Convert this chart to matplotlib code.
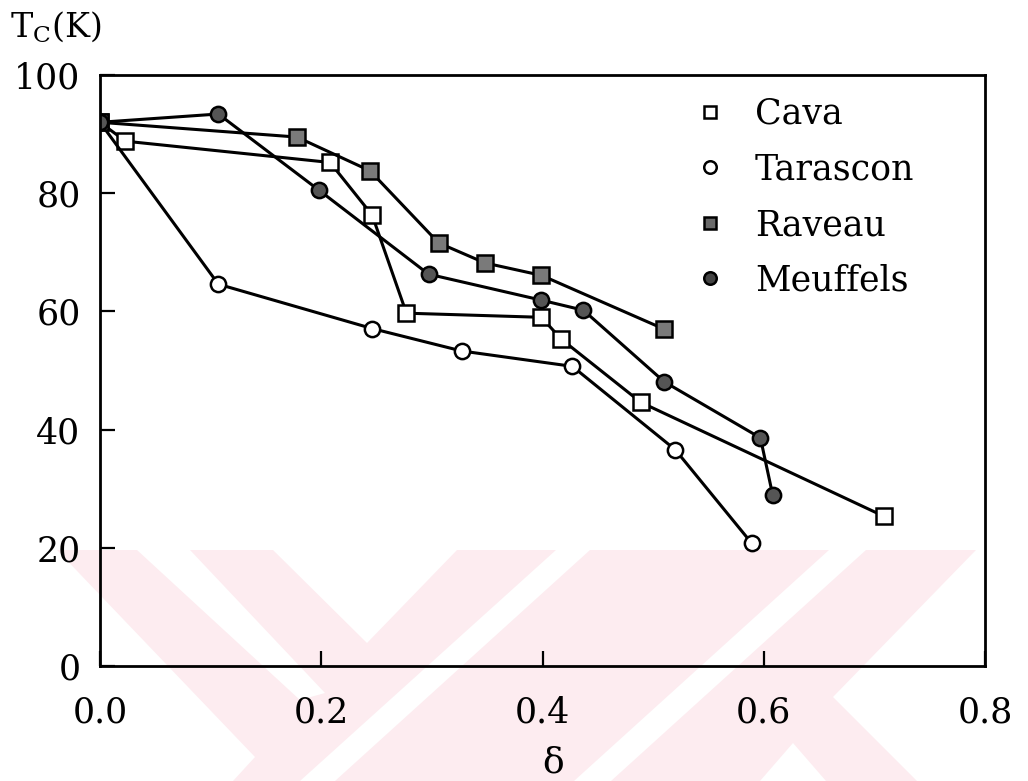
import matplotlib
matplotlib.use("Agg")
import matplotlib.pyplot as plt
from matplotlib.lines import Line2D
from matplotlib.patches import Polygon

plt.rcParams['font.family'] = ['DejaVu Serif']
plt.rcParams['mathtext.fontset'] = 'dejavuserif'

# --- données (delta, Tc en K) ---
cava_x = [0.0, 0.023, 0.208, 0.246, 0.277, 0.399, 0.417, 0.489, 0.709]
cava_y = [92.0, 88.8, 85.2, 76.3, 59.7, 59.0, 55.3, 44.6, 25.3]

tarascon_x = [0.0, 0.107, 0.246, 0.327, 0.427, 0.520, 0.589]
tarascon_y = [92.0, 64.6, 57.1, 53.3, 50.7, 36.6, 20.8]

raveau_x = [0.0, 0.178, 0.244, 0.306, 0.348, 0.399, 0.510]
raveau_y = [92.0, 89.5, 83.8, 71.6, 68.2, 66.1, 57.0]

meuffels_x = [0.0, 0.107, 0.198, 0.297, 0.399, 0.437, 0.510, 0.597, 0.608]
meuffels_y = [92.0, 93.4, 80.5, 66.3, 61.9, 60.2, 48.1, 38.6, 29.0]

labels = ["Cava", "Tarascon", "Raveau", "Meuffels"]
xticks = [0.0, 0.2, 0.4, 0.6, 0.8]
yticks = [0, 20, 40, 60, 80, 100]

W, H = 1028, 781
fig = plt.figure(figsize=(W / 100, H / 100), dpi=100)
ax = fig.add_axes([100 / W, 1 - 666 / H, 885 / W, 591 / H])
ax.patch.set_alpha(0)

# --- filigrane rose du scan ---
pink = '#fdecf0'
def px(pts):
    return [(x / W, 1 - y / H) for x, y in pts]

fig.add_artist(Polygon(px([(57, 550), (976, 550), (833, 697), (917, 781),
                            (233, 781), (255, 757)]),
                       closed=True, transform=fig.transFigure,
                       facecolor=pink, edgecolor='none', zorder=-5))
for shape in [[(137, 550), (190, 550), (325, 693), (300, 700)],
              [(273, 550), (457, 550), (367, 643)],
              [(556, 550), (590, 550), (335, 781), (300, 781)],
              [(829, 550), (866, 550), (611, 781), (574, 781)],
              [(760, 781), (793, 743), (826, 781)]]:
    fig.add_artist(Polygon(px(shape), closed=True, transform=fig.transFigure,
                           facecolor='white', edgecolor='none', zorder=-4))

# --- courbes ---
lw = 2.2
ms = 11
ax.plot(cava_x, cava_y, color='black', lw=lw, marker='s', ms=ms,
        mfc='white', mec='black', mew=1.8)
ax.plot(tarascon_x, tarascon_y, color='black', lw=lw, marker='o', ms=ms,
        mfc='white', mec='black', mew=1.8)
ax.plot(raveau_x, raveau_y, color='black', lw=lw, marker='s', ms=ms,
        mfc='#7a7a7a', mec='black', mew=1.8)
ax.plot(meuffels_x, meuffels_y, color='black', lw=lw, marker='o', ms=ms,
        mfc='#555555', mec='black', mew=1.8)

# --- légende (symboles seuls) ---
handles = [
    Line2D([], [], ls='none', marker='s', ms=9, mfc='white', mec='black', mew=1.8),
    Line2D([], [], ls='none', marker='o', ms=9, mfc='white', mec='black', mew=1.8),
    Line2D([], [], ls='none', marker='s', ms=9, mfc='#6a6a6a', mec='black', mew=1.8),
    Line2D([], [], ls='none', marker='o', ms=9, mfc='#444444', mec='black', mew=1.8),
]
fig.legend(handles, labels, loc='upper left',
           bbox_to_anchor=(694 / W, 1 - 97 / H), frameon=False,
           fontsize=25, handlelength=0.9, handletextpad=0.85,
           labelspacing=0.62, borderpad=0, borderaxespad=0)

# --- axes ---
ax.set_xlim(0, 0.8)
ax.set_ylim(0, 100)
ax.set_xticks(xticks)
ax.set_xticklabels(["0.0", "0.2", "0.4", "0.6", "0.8"])
ax.set_yticks(yticks)
ax.set_yticklabels([str(v) for v in yticks])
ax.tick_params(direction='in', length=11, width=1.6, labelsize=25)
ax.tick_params(axis='x', pad=21)
ax.tick_params(axis='y', pad=14)
for s in ax.spines.values():
    s.set_linewidth(2.0)

ax.set_xlabel("δ", fontsize=26)
ax.xaxis.set_label_coords(0.512, -0.135)
fig.text(10 / W, 1 - 37 / H, r"$\mathrm{T}_\mathrm{C}$(K)", fontsize=24,
         va='baseline', ha='left')

fig.savefig("out.png", dpi=100)
plt.close(fig)
